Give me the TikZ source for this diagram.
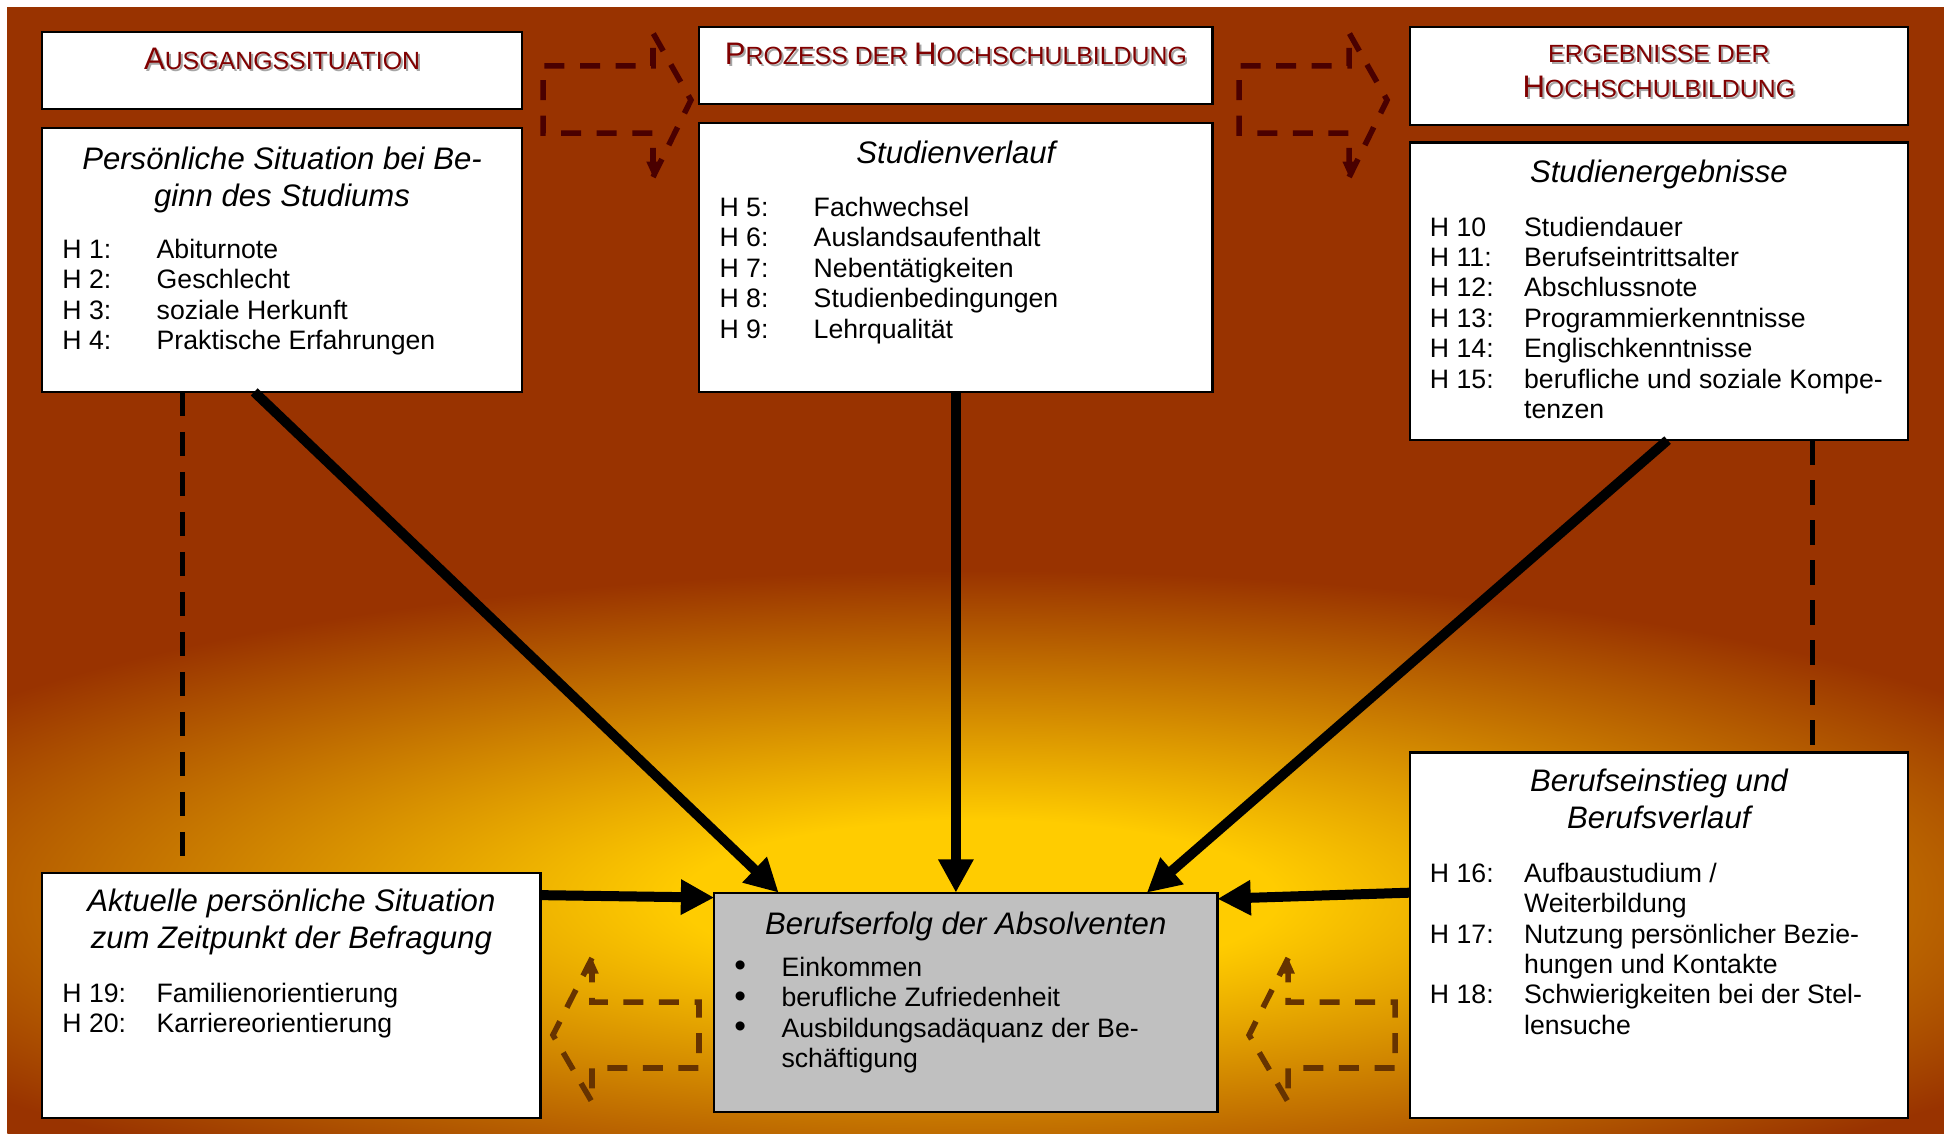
\documentclass[tikz,border=0pt]{standalone}
\usepackage{fontspec}
\setmainfont{Liberation Sans}
\usetikzlibrary{positioning}
\usetikzlibrary{arrows.meta}
\usetikzlibrary{calc}

\definecolor{bgbrown}{HTML}{993300}
\definecolor{glowyel}{HTML}{FFCC00}
\definecolor{hdred}{HTML}{800000}
\definecolor{hdshade}{HTML}{A6A6A6}
\definecolor{topdash}{HTML}{4A0000}
\definecolor{botdash}{HTML}{663300}
\definecolor{boxgray}{HTML}{C0C0C0}

\pgfdeclareradialshading{glow}{\pgfpoint{0bp}{0bp}}{color(0bp)=(glowyel); color(6bp)=(glowyel); color(25bp)=(bgbrown); color(50bp)=(bgbrown)}

% header lines: small caps look with a grey drop shadow
\newcommand{\hdline}[1]{\rlap{\raisebox{-0.9pt}{\kern0.9pt\textcolor{hdshade}{#1}}}\textcolor{hdred}{#1}}
\newcommand{\bigc}[1]{{\fontsize{14}{15.5}\selectfont #1}}
\newcommand{\smc}[1]{{\fontsize{11.2}{15.5}\selectfont #1}}
\newcommand{\hlist}[1]{\begin{tabular}[t]{@{}p{42.4pt}@{}l@{}}#1\end{tabular}}
\newcommand{\blist}[1]{\begin{tabular}[t]{@{}p{21.2pt}@{}l@{}}#1\end{tabular}}
\newcommand{\twolines}[1]{\begin{tabular}[t]{@{}c@{}}#1\end{tabular}}
\newcommand{\bul}{\smash{\raisebox{-0.3pt}{\scalebox{1.25}{\textbullet}}}}

\begin{document}
\begin{tikzpicture}[x=0.558pt,y=0.558pt,
	box/.style={draw=black,line width=1pt,fill=white,outer sep=0pt,inner sep=0pt},
	hd/.style={font=\fontsize{14}{15.5}\selectfont,inner sep=0pt,anchor=base},
	ttl/.style={font=\fontsize{14}{16.7}\selectfont\itshape,inner sep=0pt,anchor=base},
	lst/.style={font=\fontsize{12}{13.7}\selectfont,inner sep=0pt,anchor=base west},
	bigarrow/.style={line width=4.5pt,-{Triangle[length=15pt,width=15pt]}},
	linkdash/.style={line width=2.2pt,dash pattern=on 11pt off 7pt},
	blkdash/.style={line width=2.5pt,dash pattern=on 9pt off 7pt,-{Triangle[length=7pt,width=5.5pt]}},
	topblk/.style={blkdash,draw=topdash},
	botblk/.style={blkdash,draw=botdash}]

	\useasboundingbox (0,0) rectangle (1568,-914);
	\fill[bgbrown] (6,-6) rectangle (1568,-914);
	\begin{scope}
		\clip (6,-6) rectangle (1568,-914);
		\shade[shading=glow] (-210,-990) rectangle (1790,-460);
	\end{scope}

	% upper row
	\node [box,minimum width=215.9pt,minimum height=34.6pt] at (227.5,-57) (ausg) {};
	\node [box,minimum width=215.9pt,minimum height=118.9pt,below=15 of ausg] (persSit) {};
	\node [box,minimum width=231pt,minimum height=34.6pt] at (771,-53) (prozess) {};
	\node [box,minimum width=231pt,minimum height=121.1pt,below=15 of prozess] (studVerlauf) {};
	\node [box,minimum width=224.3pt,minimum height=44.1pt] at (1338,-61.5) (ergeb) {};
	\node [box,minimum width=224.3pt,minimum height=133.9pt,below=14 of ergeb] (studErg) {};

	% lower row
	\node [box,minimum width=224.3pt,minimum height=110.5pt] at (235,-803) (aktSit) {};
	\node [box,fill=boxgray,minimum width=226.5pt,minimum height=98.8pt] at (779,-808.5) (berufserfolg) {};
	\node [box,minimum width=224.3pt,minimum height=164.6pt] at (1338,-754.5) (berufsein) {};

	% headers
	\node [hd] at ($(ausg.north)+(0,-30)$) (ausg_t) {\hdline{\bigc{A}\smc{USGANGSSITUATION}}};
	\node [hd] at ($(prozess.north)+(0,-30)$) (prozess_t) {\hdline{\bigc{P}\smc{ROZESS DER }\bigc{H}\smc{OCHSCHULBILDUNG}}};
	\node [hd] at ($(ergeb.north)+(0,-28.5)$) (ergeb_t) {\twolines{\hdline{\smc{ERGEBNISSE DER}}\\\hdline{\bigc{H}\smc{OCHSCHULBILDUNG}}}};

	% box texts
	\node [ttl] at ($(persSit.north)+(0,-33.5)$) (persSit_t) {\twolines{Persönliche Situation bei Be-\\ginn des Studiums}};
	\node [lst] at ($(persSit.north west)+(16,-105.5)$) (persSit_l) {\hlist{H 1: & Abiturnote\\H 2: & Geschlecht\\H 3: & soziale Herkunft\\H 4: & Praktische Erfahrungen}};

	\node [ttl] at ($(studVerlauf.north)+(0,-32.5)$) (studVerlauf_t) {Studienverlauf};
	\node [lst] at ($(studVerlauf.north west)+(16,-75.5)$) (studVerlauf_l) {\hlist{H 5: & Fachwechsel\\H 6: & Auslandsaufenthalt\\H 7: & Nebentätigkeiten\\H 8: & Studienbedingungen\\H 9: & Lehrqualität}};

	\node [ttl] at ($(studErg.north)+(0,-32.4)$) (studErg_t) {Studienergebnisse};
	\node [lst] at ($(studErg.north west)+(16,-75.4)$) (studErg_l) {\hlist{H 10 & Studiendauer\\H 11: & Berufseintrittsalter\\H 12: & Abschlussnote\\H 13: & Programmierkenntnisse\\H 14: & Englischkenntnisse\\H 15: & berufliche und soziale Kompe-\\ & tenzen}};

	\node [ttl] at ($(aktSit.north)+(0,-31.5)$) (aktSit_t) {\twolines{Aktuelle persönliche Situation\\zum Zeitpunkt der Befragung}};
	\node [lst] at ($(aktSit.north west)+(16,-104.5)$) (aktSit_l) {\hlist{H 19: & Familienorientierung\\H 20: & Karriereorientierung}};

	\node [ttl] at ($(berufserfolg.north)+(0,-33.5)$) (berufserfolg_t) {Berufserfolg der Absolventen};
	\node [lst] at ($(berufserfolg.north west)+(16,-67.5)$) (berufserfolg_l) {\blist{\bul & Einkommen\\\bul & berufliche Zufriedenheit\\\bul & Ausbildungsadäquanz der Be-\\ & schäftigung}};

	\node [ttl] at ($(berufsein.north)+(0,-31.5)$) (berufsein_t) {\twolines{Berufseinstieg und\\Berufsverlauf}};
	\node [lst] at ($(berufsein.north west)+(16,-104.5)$) (berufsein_l) {\hlist{H 16: & Aufbaustudium /\\ & Weiterbildung\\H 17: & Nutzung persönlicher Bezie-\\ & hungen und Kontakte\\H 18: & Schwierigkeiten bei der Stel-\\ & lensuche}};

	% influences
	\draw[bigarrow] ($(persSit.south west)+(171,0)$) -- ($(berufserfolg.north west)+(52,0)$);
	\draw[bigarrow] (studVerlauf.south) -- (studVerlauf.south |- berufserfolg.north);
	\draw[bigarrow] ($(studErg.south west)+(208,0)$) -- ($(berufserfolg.north west)+(349,0)$);
	\draw[bigarrow] ($(aktSit.north east)+(0,-18)$) -- ($(berufserfolg.north west)+(0,-4)$);
	\draw[bigarrow] ($(berufsein.north west)+(0,-113)$) -- ($(berufserfolg.north east)+(0,-5)$);

	\draw[linkdash] ($(persSit.south west)+(113,0)$) coordinate (ld) -- (ld |- aktSit.north);
	\draw[linkdash] ($(studErg.south west)+(325,0)$) coordinate (rd) -- (rd |- berufsein.north);

	% dashed block arrows
	\foreach \dx in {0,561.5}
		\draw[topblk,shift={(\dx,0)}] (526.7,-142.8) -- (557.3,-80.7) -- (526.7,-26.6) -- (526.7,-53.2) -- (438,-53.2) -- (438,-107.3) -- (526.7,-107.3) -- (526.7,-142.8);
	\foreach \dx in {0,561.5}
		\draw[botblk,shift={(\dx,0)}] (477.5,-772.7) -- (446,-834.8) -- (477.5,-888.9) -- (477.5,-861.4) -- (563.8,-861.4) -- (563.8,-808.2) -- (477.5,-808.2) -- (477.5,-772.7);
\end{tikzpicture}
\end{document}
